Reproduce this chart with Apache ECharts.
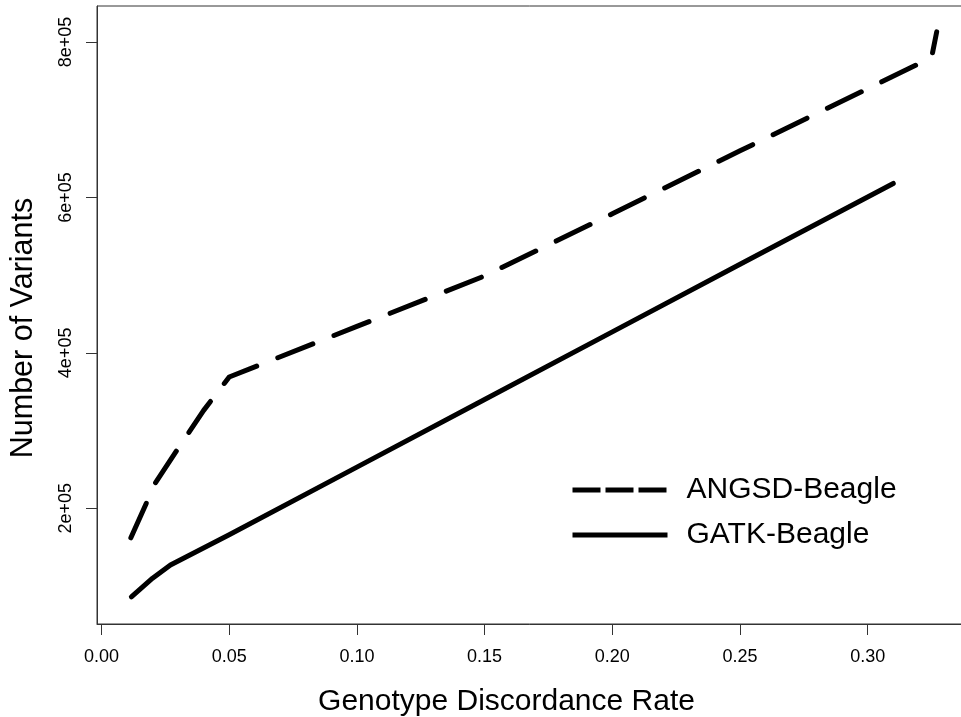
<!DOCTYPE html>
<html>
<head>
<meta charset="utf-8">
<script src="https://cdn.jsdelivr.net/npm/echarts@6/dist/echarts.min.js"></script>
<style>
  html, body { margin: 0; padding: 0; background: #fff; }
  #chart { width: 961px; height: 717px; }
</style>
</head>
<body>
<div id="chart"></div>
<script>
// Genotype discordance rate vs. number of variants retained
const rateANGSD  = [0.0115, 0.021, 0.030, 0.040, 0.050, 0.100, 0.150, 0.200, 0.250, 0.300, 0.325, 0.327];
const countANGSD = [162000, 232000, 277000, 326000, 369000, 434000, 499000, 579000, 660000, 740000, 780000, 813000];

const rateGATK  = [0.0117, 0.020, 0.027, 0.050, 0.100, 0.150, 0.200, 0.250, 0.310];
const countGATK = [86000, 110000, 127000, 166000, 253000, 340000, 427000, 514000, 618000];

const seriesNames = ['ANGSD-Beagle', 'GATK-Beagle'];

const xTicks = [0, 0.05, 0.10, 0.15, 0.20, 0.25, 0.30];
const xTickLabels = ['0.00', '0.05', '0.10', '0.15', '0.20', '0.25', '0.30'];
const yTicks = [200000, 400000, 600000, 800000];
const yTickLabels = ['2e+05', '4e+05', '6e+05', '8e+05'];

const FONT = 'Liberation Sans, Arial, sans-serif';

function pairs(xs, ys) {
  return xs.map((x, i) => [x, ys[i]]);
}
function labelFor(ticks, labels) {
  return v => {
    const i = ticks.findIndex(t => Math.abs(t - v) < 1e-9 * Math.max(1, Math.abs(t)));
    return i >= 0 ? labels[i] : '';
  };
}

const chart = echarts.init(document.getElementById('chart'), null, { renderer: 'canvas' });

chart.setOption({
  animation: false,
  backgroundColor: '#ffffff',
  textStyle: { fontFamily: FONT, color: '#000' },
  grid: {
    left: 97, top: 6, width: 866, height: 618,
    show: true, borderColor: '#333', borderWidth: 1,
    containLabel: false, outerBoundsMode: 'none'
  },
  xAxis: {
    type: 'value',
    min: -0.00176, max: 0.3373,
    name: 'Genotype Discordance Rate',
    nameLocation: 'middle',
    nameGap: 63,
    nameTextStyle: { fontSize: 30, color: '#000', fontFamily: FONT, padding: [0, 47, 0, 0] },
    axisLine: { show: true, onZero: false, lineStyle: { color: '#333', width: 1 } },
    axisTick: { show: true, length: 11, inside: false, customValues: xTicks, lineStyle: { color: '#333', width: 1 } },
    axisLabel: {
      show: true, customValues: xTicks, margin: 24,
      fontSize: 18, color: '#000', fontFamily: FONT,
      formatter: labelFor(xTicks, xTickLabels)
    },
    splitLine: { show: false }
  },
  yAxis: {
    type: 'value',
    min: 51130, max: 846300,
    name: 'Number of Variants',
    nameLocation: 'middle',
    nameGap: 58,
    nameRotate: 90,
    nameTextStyle: { fontSize: 30.5, color: '#000', fontFamily: FONT, padding: [0, 26, 0, 0] },
    axisLine: { show: true, onZero: false, lineStyle: { color: '#333', width: 1 } },
    axisTick: { show: true, length: 11, inside: false, customValues: yTicks, lineStyle: { color: '#333', width: 1 } },
    axisLabel: {
      show: true, customValues: yTicks, margin: 22, rotate: 90,
      fontSize: 18, color: '#000', fontFamily: FONT,
      formatter: labelFor(yTicks, yTickLabels)
    },
    splitLine: { show: false }
  },
  legend: {
    show: true,
    orient: 'vertical',
    left: 570, top: 475,
    itemWidth: 95, itemHeight: 14, itemGap: 15,
    padding: 0,
    selectedMode: false,
    textStyle: { fontSize: 30, color: '#000', fontFamily: FONT, lineHeight: 30, padding: [0, 0, 0, 14] },
    itemStyle: { opacity: 0, borderWidth: 0 },
    lineStyle: { width: 5, color: '#000' },
    data: [
      { name: seriesNames[0], itemStyle: { opacity: 0 }, lineStyle: { type: [28, 5], cap: 'butt', width: 5 } },
      { name: seriesNames[1], itemStyle: { opacity: 0 }, lineStyle: { type: 'solid', cap: 'butt', width: 5 } }
    ]
  },
  series: [
    {
      name: seriesNames[0],
      type: 'line',
      data: pairs(rateANGSD, countANGSD),
      symbol: 'none',
      showSymbol: false,
      smooth: false,
      color: '#000',
      lineStyle: { color: '#000', width: 5, type: [37.7, 22.7], cap: 'round', join: 'round' },
      emphasis: { disabled: true },
      silent: true
    },
    {
      name: seriesNames[1],
      type: 'line',
      data: pairs(rateGATK, countGATK),
      symbol: 'none',
      showSymbol: false,
      smooth: false,
      color: '#000',
      lineStyle: { color: '#000', width: 5, type: 'solid', cap: 'round', join: 'round' },
      emphasis: { disabled: true },
      silent: true
    }
  ]
});
</script>
</body>
</html>
